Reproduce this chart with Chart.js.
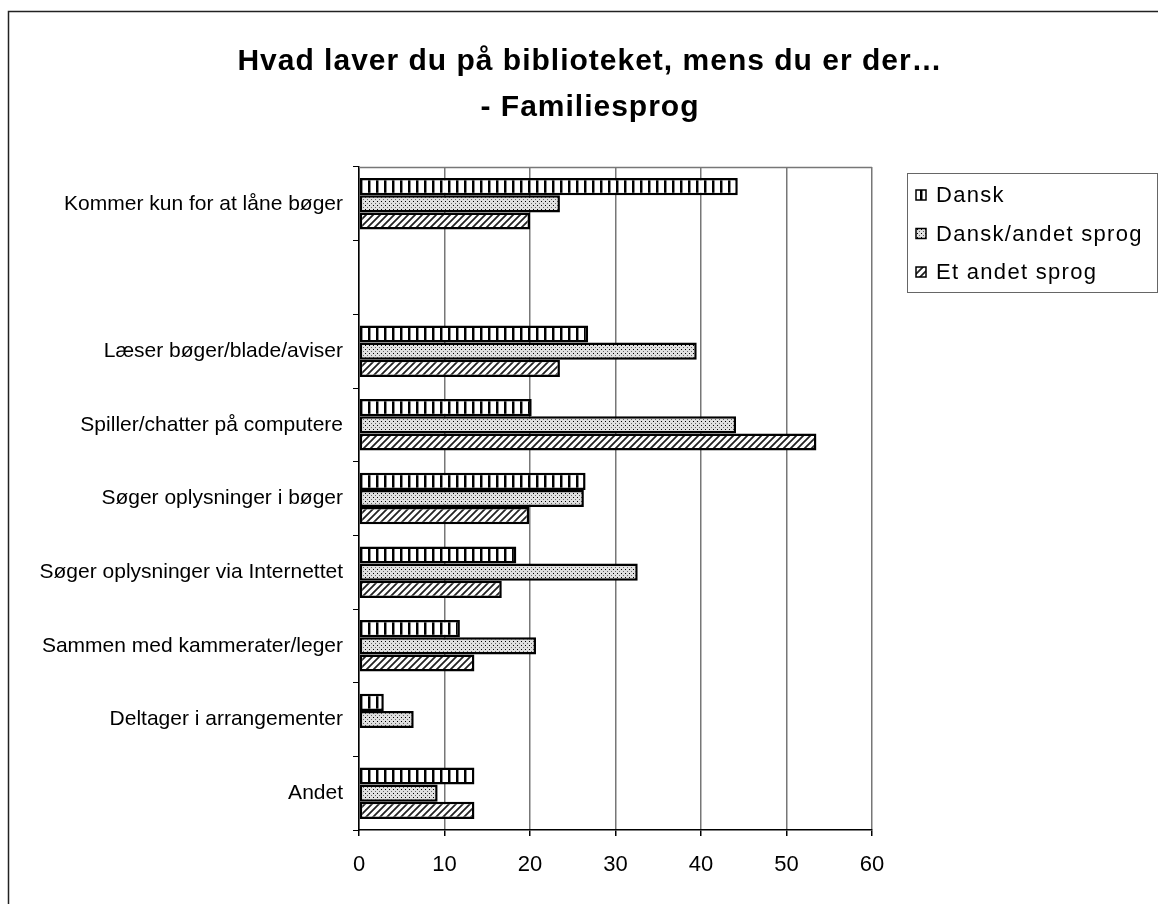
<!DOCTYPE html>
<html>
<head>
<meta charset="utf-8">
<script src="https://cdn.jsdelivr.net/npm/chart.js@4.4.0/dist/chart.umd.min.js"></script>
<style>
  html, body { margin: 0; padding: 0; background: #fff; }
  #wrap { width: 1158px; height: 904px; }
</style>
</head>
<body>
<div id="wrap"><canvas id="chart" width="1158" height="904"></canvas></div>
<script>
const titleLines = ["Hvad laver du på biblioteket, mens du er der…", "- Familiesprog"];

const categories = [
  "Kommer kun for at låne bøger",
  "",
  "Læser bøger/blade/aviser",
  "Spiller/chatter på computere",
  "Søger oplysninger i bøger",
  "Søger oplysninger via Internettet",
  "Sammen med kammerater/leger",
  "Deltager i arrangementer",
  "Andet"
];

const seriesNames = ["Dansk", "Dansk/andet sprog", "Et andet sprog"];
const dansk      = [44.3, null, 26.8, 20.2, 26.5, 18.4, 11.8, 2.9, 13.5];
const danskAndet = [23.5, null, 39.5, 44.1, 26.3, 32.6, 20.7, 6.4, 9.2];
const etAndet    = [20.0, null, 23.5, 53.5, 19.9, 16.7, 13.5, null, 13.5];

const xTicks = [0, 10, 20, 30, 40, 50, 60];

/* ---------------- PATTERNS ---------------- */
function makeTile(size, draw) {
  const c = document.createElement("canvas");
  c.width = size; c.height = size;
  const g = c.getContext("2d");
  draw(g, size);
  return document.getElementById("chart").getContext("2d").createPattern(c, "repeat");
}

const vertPattern = makeTile(8, (g, s) => {
  g.fillStyle = "#fff"; g.fillRect(0, 0, s, s);
  g.fillStyle = "#000"; g.fillRect(0, 0, 2, s);
  g.fillStyle = "#888"; g.fillRect(2, 0, 1, s);
});

const dotPattern = makeTile(4, (g, s) => {
  g.fillStyle = "#e0e0e0"; g.fillRect(0, 0, s, s);
  g.fillStyle = "#000"; g.fillRect(1, 1, 1, 1);
  g.fillStyle = "#666"; g.fillRect(3, 3, 1, 1);
});

const diagPattern = makeTile(7, (g, s) => {
  g.fillStyle = "#fff"; g.fillRect(0, 0, s, s);
  g.strokeStyle = "#222"; g.lineWidth = 1.8;
  g.beginPath();
  g.moveTo(-1, s + 1); g.lineTo(s + 1, -1);
  g.moveTo(-1, 1); g.lineTo(1, -1);
  g.moveTo(s - 1, s + 1); g.lineTo(s + 1, s - 1);
  g.stroke();
});

const patterns = [vertPattern, dotPattern, diagPattern];

/* ---------------- TITLE / FRAME / LEGEND ---------------- */
const decorations = {
  id: "decorations",
  afterDraw(chart) {
    const { ctx, chartArea: a } = chart;
    ctx.save();

    // top edge of the plot area
    ctx.strokeStyle = "#777";
    ctx.lineWidth = 1.5;
    ctx.beginPath();
    ctx.moveTo(a.left, a.top + 0.5);
    ctx.lineTo(a.right, a.top + 0.5);
    ctx.stroke();

    // outer frame (left + top visible)
    ctx.strokeStyle = "#222";
    ctx.lineWidth = 1.5;
    ctx.beginPath();
    ctx.moveTo(8.5, 904);
    ctx.lineTo(8.5, 11.5);
    ctx.lineTo(1158, 11.5);
    ctx.stroke();

    // title
    ctx.fillStyle = "#000";
    ctx.textAlign = "center";
    ctx.textBaseline = "alphabetic";
    ctx.font = 'bold 30px "Liberation Sans", Arial, sans-serif';
    ctx.letterSpacing = "1px";
    ctx.fillText(titleLines[0], 590, 70);
    ctx.fillText(titleLines[1], 590, 116);

    // legend box
    ctx.letterSpacing = "1.3px";
    ctx.strokeStyle = "#666";
    ctx.lineWidth = 1;
    ctx.strokeRect(907.5, 173.5, 250, 119);
    ctx.font = '22px "Liberation Sans", Arial, sans-serif';
    ctx.textAlign = "left";
    ctx.textBaseline = "middle";
    seriesNames.forEach((name, i) => {
      const cy = 195 + i * 38.5;
      ctx.fillStyle = patterns[i];
      ctx.fillRect(916, cy - 5, 10, 10);
      ctx.strokeStyle = "#000";
      ctx.lineWidth = 1.5;
      ctx.strokeRect(916, cy - 5, 10, 10);
      ctx.fillStyle = "#000";
      ctx.fillText(name, 936, cy + 1);
    });

    ctx.restore();
  }
};

/* ---------------- CHART ---------------- */
const seriesData = [dansk, danskAndet, etAndet];

new Chart(document.getElementById("chart"), {
  type: "bar",
  data: {
    labels: categories,
    datasets: seriesNames.map((name, i) => ({
      label: name,
      data: seriesData[i],
      backgroundColor: patterns[i],
      borderColor: "#000",
      borderWidth: 2.5,
      borderSkipped: false,
      barPercentage: 1,
      categoryPercentage: 0.7
    }))
  },
  options: {
    indexAxis: "y",
    responsive: false,
    animation: false,
    layout: { padding: { left: 0, right: 286, top: 167, bottom: 0 } },
    plugins: {
      legend: { display: false },
      title: { display: false },
      tooltip: { enabled: false }
    },
    scales: {
      x: {
        min: 0,
        max: 60,
        afterBuildTicks: axis => { axis.ticks = xTicks.map(v => ({ value: v })); },
        afterFit: s => { s.height = 74; },
        border: { color: "#000", width: 1.5 },
        grid: { color: "#777", lineWidth: 1.5, tickLength: 6, tickColor: "#000" },
        ticks: {
          color: "#000",
          padding: 16,
          font: { family: '"Liberation Sans", Arial, sans-serif', size: 22 }
        }
      },
      y: {
        afterFit: s => { s.width = 359; },
        border: { color: "#000", width: 1.5 },
        grid: { drawOnChartArea: false, color: "#000", tickLength: 6, offset: true },
        ticks: {
          color: "#000",
          padding: 10,
          autoSkip: false,
          font: { family: '"Liberation Sans", Arial, sans-serif', size: 21 }
        }
      }
    }
  },
  plugins: [decorations]
});
</script>
</body>
</html>
